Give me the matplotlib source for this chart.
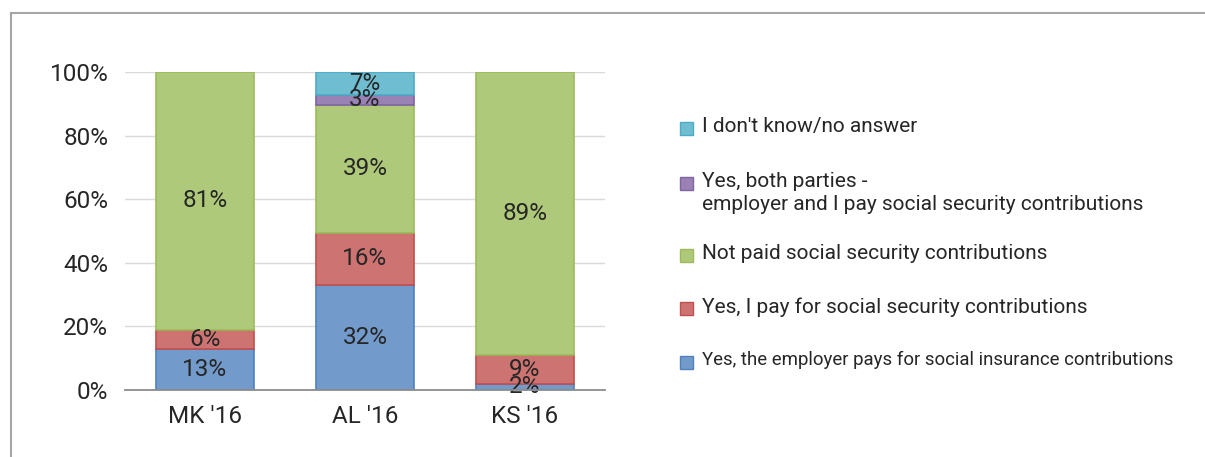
#!/bin/env python3

'''
Stacked 100% bar chart of social security contributions by country
'''

import numpy as np
import matplotlib
matplotlib.use("Agg")
import matplotlib.pyplot as plt
from matplotlib.patches import Rectangle
from matplotlib.lines import Line2D

##############################################################
# Data
##############################################################
countries = ["MK '16", "AL '16", "KS '16"]

series_names = [
    "Yes, the employer pays for social insurance contributions",
    "Yes, I pay for social security contributions",
    "Not paid social security contributions",
    "Yes, both parties -\nemployer and I pay social security contributions",
    "I don't know/no answer",
]

employer_pays = [13, 32, 2]
i_pay = [6, 16, 9]
not_paid = [81, 39, 89]
both_parties = [0, 3, 0]
dont_know = [0, 7, 0]

edge_colors = ["#4F81BD", "#C0504D", "#9BBB59", "#8064A2", "#4BACC6"]

##############################################################
# Plot
##############################################################
plt.rcParams["font.family"] = ["Roboto", "DejaVu Sans"]
text_color = "#262626"

W, H = 1205, 457
fig = plt.figure(figsize=(W / 100, H / 100), dpi=100)


def fx(px):
    return px / W


def fy(py):
    return 1 - py / H


ax = fig.add_axes([fx(125), fy(390), fx(605) - fx(125), fy(72) - fy(390)])

values = np.array([employer_pays, i_pay, not_paid, both_parties, dont_know], dtype=float)
shares = values / values.sum(axis=0) * 100
x = np.arange(len(countries))

bottom = np.zeros(len(countries))
for raw, share, ec in zip(values, shares, edge_colors):
    rgb = np.array(matplotlib.colors.to_rgb(ec))
    face = rgb * 0.8 + 0.2
    shown = share > 0
    ax.bar(x[shown], share[shown], 0.61, bottom=bottom[shown], color=face,
           edgecolor=ec, linewidth=1.2, zorder=3)
    for i in range(len(countries)):
        if raw[i] > 0:
            ax.text(x[i], bottom[i] + share[i] / 2, f"{raw[i]:.0f}%",
                    ha="center", va="center", fontsize=17.5,
                    color=text_color, zorder=4)
    bottom += share

ax.set_xlim(-0.5, 2.5)
ax.set_ylim(0, 100)
ax.set_yticks([0, 20, 40, 60, 80, 100])
ax.set_yticklabels([f"{v}%" for v in [0, 20, 40, 60, 80, 100]])
ax.set_xticks(x)
ax.set_xticklabels(countries)
ax.tick_params(axis="both", length=0, labelsize=17.5, colors=text_color)
ax.tick_params(axis="y", pad=12)
ax.tick_params(axis="x", pad=11)
ax.grid(axis="y", color="#D9D9D9", linewidth=1, zorder=0)
for s in ["top", "right", "left"]:
    ax.spines[s].set_visible(False)
ax.spines["bottom"].set_color("#8C8C8C")
ax.spines["bottom"].set_linewidth(1.3)
ax.spines["bottom"].set_zorder(5)

# legend drawn by hand, top entry first
legend_y = [128, 183, 255, 308, 362]
legend_size = [15, 15, 15, 15, 13.4]
for name, ec, ly, fs in zip(series_names[::-1], edge_colors[::-1], legend_y, legend_size):
    rgb = np.array(matplotlib.colors.to_rgb(ec))
    fig.add_artist(Rectangle((fx(680), fy(ly + 7)), fx(13), fy(0) - fy(13),
                             transform=fig.transFigure, facecolor=rgb * 0.8 + 0.2,
                             edgecolor=ec, linewidth=1))
    fig.text(fx(702), fy(ly - 11), name, ha="left", va="top", fontsize=fs,
             color=text_color, linespacing=1.25)

# outer frame
fig.add_artist(Line2D([fx(11), 1], [fy(13), fy(13)], color="#A6A6A6", linewidth=1.5))
fig.add_artist(Line2D([fx(11), fx(11)], [fy(13), 0], color="#A6A6A6", linewidth=1.5))

fig.savefig("out.png", dpi=100, facecolor="white")
